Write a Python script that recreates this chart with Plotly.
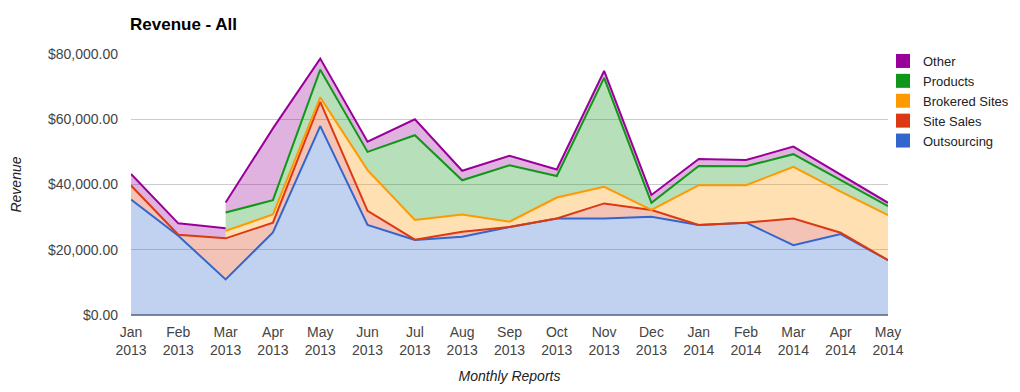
import plotly.graph_objects as go

months = ["Jan", "Feb", "Mar", "Apr", "May", "Jun", "Jul", "Aug", "Sep", "Oct",
          "Nov", "Dec", "Jan", "Feb", "Mar", "Apr", "May"]
years = ["2013"] * 12 + ["2014"] * 5
tick_labels = [f"{m}<br>{y}" for m, y in zip(months, years)]

outsourcing = [35400, 24300, 10900, 25300, 57900, 27600, 23000, 24000, 27000, 29600,
               29600, 30100, 27600, 28300, 21400, 24800, 16800]
site_sales = [4300, 300, 12600, 3000, 7400, 4300, 100, 1500, 0, 0,
              4600, 2100, 0, 0, 8200, 400, 0]
brokered_sites = [None, None, 2300, 2500, 1400, 12500, 6000, 5300, 1600, 6400,
                  5100, 0, 12200, 11500, 15800, 12600, 13800]
products = [None, None, 5600, 4400, 8500, 5600, 26000, 10500, 17300, 6600,
            33400, 2200, 5900, 5800, 3900, 3500, 2800]
other = [3500, 3500, 3100, 22000, 3400, 3100, 4900, 2900, 2900, 2000,
         2100, 2400, 2100, 1900, 2300, 1600, 1000]

names = ["Outsourcing", "Site Sales", "Brokered Sites", "Products", "Other"]
series = [outsourcing, site_sales, brokered_sites, products, other]
colors = ["#3366cc", "#dc3912", "#ff9900", "#109618", "#990099"]
fills = ["rgba(51,102,204,0.3)", "rgba(220,57,18,0.3)", "rgba(255,153,0,0.3)",
         "rgba(16,150,24,0.3)", "rgba(153,0,153,0.3)"]

n = len(months)
# Expand points: where a series starts after nulls, add a left-limit point
pts = []
for i in range(n):
    starting = {k for k, s in enumerate(series) if i > 0 and s[i] is not None and s[i - 1] is None}
    nulls = {k for k, s in enumerate(series) if s[i] is None}
    if starting:
        vals = [0 if (s[i] is None or k in starting) else s[i] for k, s in enumerate(series)]
        pts.append((i, vals, nulls | starting))
    vals = [0 if s[i] is None else s[i] for s in series]
    pts.append((i, vals, nulls))

tops = []
for p in pts:
    acc, t = 0, []
    for v in p[1]:
        acc += v
        t.append(acc)
    tops.append(t)

fig = go.Figure()
xs = [p[0] for p in pts]
for k in range(len(series)):
    fig.add_trace(go.Scatter(
        x=xs, y=[t[k] for t in tops], mode="lines",
        line=dict(width=0, color=colors[k]),
        fill="tozeroy" if k == 0 else "tonexty", fillcolor=fills[k],
        showlegend=False, hoverinfo="skip"))

for k in range(len(series)):
    lx, ly = [], []
    prev = None
    for j, p in enumerate(pts):
        y = None if k in p[2] else tops[j][k]
        if prev is not None and prev[0] == p[0] and prev[1] is not None and y is not None and prev[1] != y:
            lx.append(None)
            ly.append(None)
        lx.append(p[0])
        ly.append(y)
        prev = (p[0], y)
    fig.add_trace(go.Scatter(x=lx, y=ly, mode="lines", name=names[k],
                             line=dict(width=2, color=colors[k]),
                             showlegend=False, connectgaps=False))

for k in reversed(range(len(series))):
    fig.add_trace(go.Scatter(x=[None], y=[None], mode="markers", name=names[k],
                             marker=dict(symbol="square", size=14, color=colors[k]),
                             legendgroup=names[k]))

# The page body adds an 8px margin, so the figure is 1012x384 to fill the window
W, H = 1012, 384
font = "Arial, Liberation Sans, sans-serif"
fig.update_layout(
    width=W, height=H,
    margin=dict(l=123, r=132, t=46, b=77, autoexpand=False),
    plot_bgcolor="white", paper_bgcolor="white",
    font=dict(family=font, size=14, color="#444"),
    title=dict(text="<b>Revenue - All</b>", x=122 / W, xanchor="left",
               y=1 - 16 / H, yanchor="middle", pad=dict(t=0, b=0, l=0, r=0),
               automargin=False,
               font=dict(family=font, size=17, color="#000")),
    xaxis=dict(range=[0, n - 1], tickmode="array", tickvals=list(range(n)),
               ticktext=tick_labels, showgrid=False, zeroline=False,
               showline=False, ticks="", tickfont=dict(size=14, color="#444"),
               ticklabelstandoff=7, automargin=False,
               title=dict(text="<i>Monthly Reports</i>", standoff=13,
                          font=dict(size=14, color="#222"))),
    yaxis=dict(range=[0, 80000], tickvals=[0, 20000, 40000, 60000, 80000],
               tickformat="$,.2f", showgrid=True, gridcolor="#cccccc",
               zeroline=True, zerolinecolor="#888", zerolinewidth=1.5,
               showline=False, ticks="", ticklabelstandoff=12, automargin=False,
               tickfont=dict(size=14, color="#444"),
               title=dict(text="<i>Revenue</i>", standoff=27,
                          font=dict(size=14, color="#222"))),
    legend=dict(xref="container", yref="container",
                x=875 / W, xanchor="left", y=1 - 38 / H, yanchor="top",
                font=dict(size=13, color="#222"), tracegroupgap=2.5,
                traceorder="normal", bgcolor="rgba(0,0,0,0)"),
    hovermode=False,
)

fig.write_html("out.html")
